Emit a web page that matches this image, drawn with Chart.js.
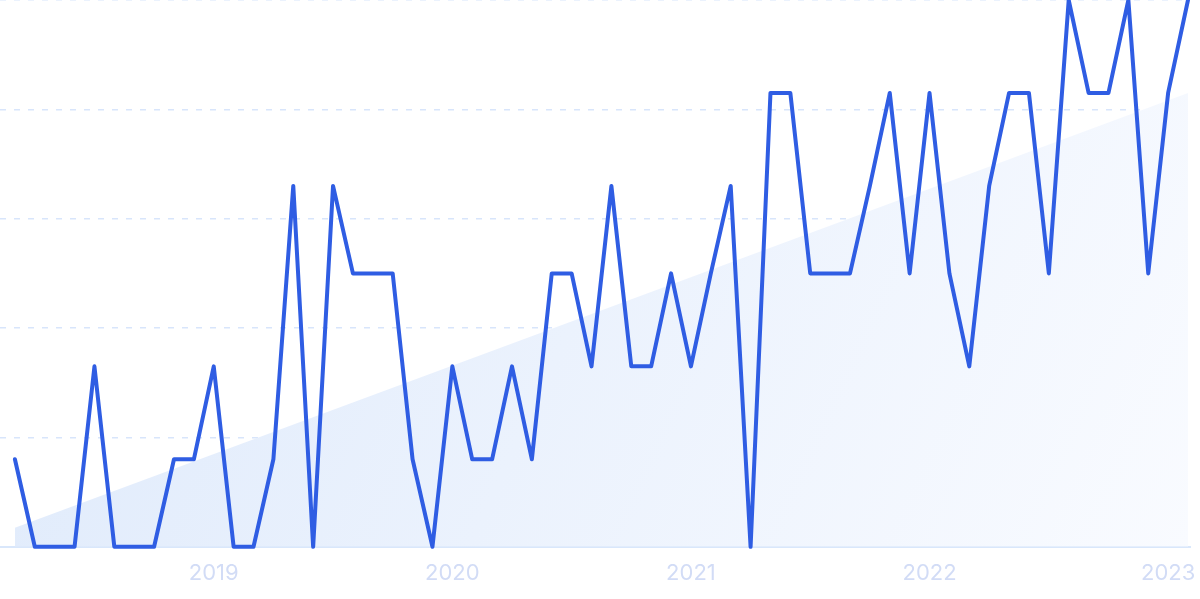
<!DOCTYPE html>
<html>
<head>
<meta charset="utf-8">
<script src="https://cdn.jsdelivr.net/npm/chart.js@4/dist/chart.umd.min.js"></script>
<style>
  html, body { margin: 0; padding: 0; background: #fff; }
  #wrap { width: 1200px; height: 599px; position: relative; }
</style>
</head>
<body>
<div id="wrap"><canvas id="chart"></canvas></div>
<script>
// monthly points, 2018-03 .. 2023-02
var months = [
    '2018-03','2018-04','2018-05','2018-06','2018-07','2018-08','2018-09','2018-10','2018-11','2018-12',
    '2019-01','2019-02','2019-03','2019-04','2019-05','2019-06','2019-07','2019-08','2019-09','2019-10','2019-11','2019-12',
    '2020-01','2020-02','2020-03','2020-04','2020-05','2020-06','2020-07','2020-08','2020-09','2020-10','2020-11','2020-12',
    '2021-01','2021-02','2021-03','2021-04','2021-05','2021-06','2021-07','2021-08','2021-09','2021-10','2021-11','2021-12',
    '2022-01','2022-02','2022-03','2022-04','2022-05','2022-06','2022-07','2022-08','2022-09','2022-10','2022-11','2022-12',
    '2023-01','2023-02'
];
var interest = [
    16, 0, 0, 0, 33, 0, 0, 0, 16, 16,
    33, 0, 0, 16, 66, 0, 66, 50, 50, 50, 16, 0,
    33, 16, 16, 33, 16, 50, 50, 33, 66, 33, 33, 50,
    33, 50, 66, 0, 83, 83, 50, 50, 50, 66, 83, 50,
    83, 50, 33, 66, 83, 83, 50, 100, 83, 83, 100, 50,
    83, 100
];
// trend line: value at first and last month
var trendValues = [3.5, 83];
var yearLabels = ['2019', '2020', '2021', '2022', '2023'];
var yearMonths = ['2019-01', '2020-01', '2021-01', '2022-01', '2023-01'];

var linePoints = interest.map(function(v, i) { return {x: i, y: v}; });
var trendPoints = [
    {x: 0, y: trendValues[0]},
    {x: months.length - 1, y: trendValues[1]}
];
var yearTicks = yearMonths.map(function(m) { return months.indexOf(m); });

function trendFill(context) {
    var chart = context.chart;
    var area = chart.chartArea;
    if (!area) return 'rgba(222,234,251,1)';
    var g = chart.ctx.createLinearGradient(area.left, area.top, area.right, area.bottom);
    g.addColorStop(0, 'rgba(221,233,251,1)');
    g.addColorStop(1, 'rgba(249,251,255,1)');
    return g;
}

new Chart(document.getElementById('chart'), {
    type: 'line',
    data: {
        datasets: [
            {
                label: 'Interest',
                data: linePoints,
                borderColor: '#2f5de3',
                borderWidth: 4,
                borderJoinStyle: 'round',
                borderCapStyle: 'round',
                pointRadius: 0,
                tension: 0,
                fill: false,
                clip: false
            }, {
                label: 'Trend',
                data: trendPoints,
                borderWidth: 0,
                borderColor: 'rgba(0,0,0,0)',
                backgroundColor: trendFill,
                pointRadius: 0,
                fill: 'origin'
            }
        ]
    },
    options: {
        responsive: true,
        maintainAspectRatio: false,
        animation: false,
        layout: { padding: { left: 0, right: 10, top: 0, bottom: 0 } },
        plugins: {
            legend: { display: false },
            tooltip: { enabled: false }
        },
        scales: {
            x: {
                type: 'linear',
                min: -0.75,
                max: months.length - 1 + 0.1,
                afterBuildTicks: function(scale) {
                    scale.ticks = yearTicks.map(function(v) { return {value: v}; });
                },
                afterFit: function(scale) {
                    scale.paddingLeft = 0;
                    scale.paddingRight = 0;
                },
                grid: { display: false, drawTicks: false },
                border: { display: true, color: '#d9e7fb', width: 2 },
                ticks: {
                    autoSkip: false,
                    maxRotation: 0,
                    padding: 14,
                    color: '#d2dcf6',
                    font: { family: 'Inter', size: 22, lineHeight: 1.1 },
                    callback: function(value) {
                        var k = yearTicks.indexOf(value);
                        return k >= 0 ? yearLabels[k] : '';
                    }
                }
            },
            y: {
                min: 0,
                max: 100,
                ticks: { display: false, stepSize: 20 },
                grid: {
                    drawTicks: false,
                    lineWidth: 1.5,
                    color: function(ctx) {
                        return ctx.tick && ctx.tick.value === 0 ? 'rgba(0,0,0,0)' : '#d8e5fb';
                    }
                },
                border: { display: false, dash: [6, 8] }
            }
        }
    }
});
</script>
</body>
</html>
